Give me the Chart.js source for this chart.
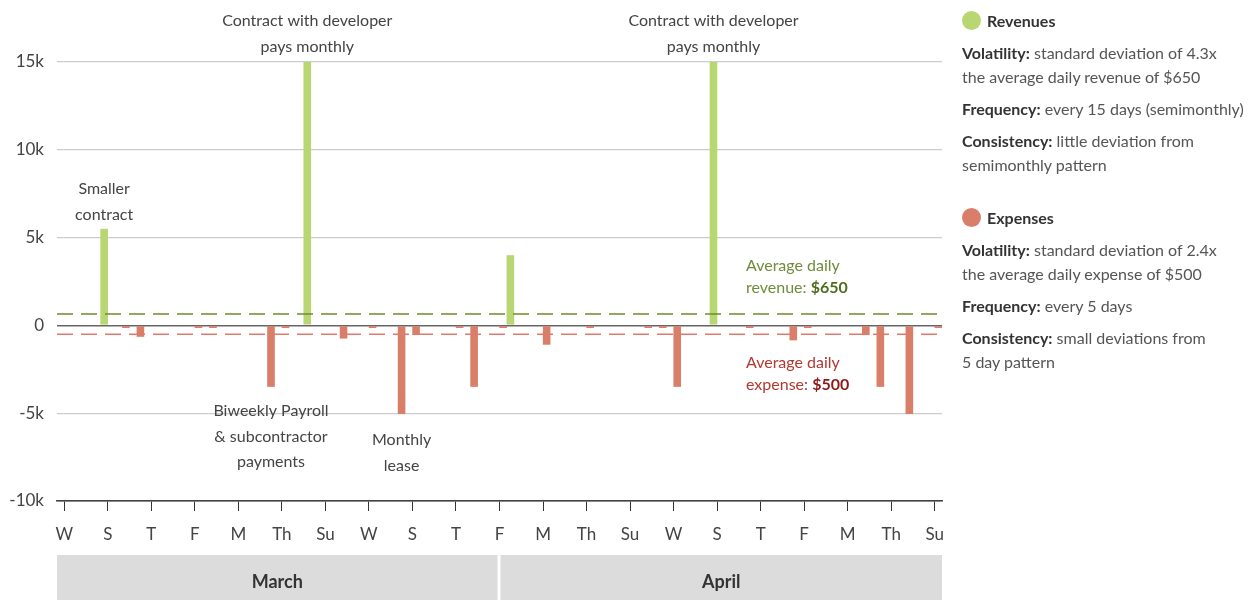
<!DOCTYPE html>
<html>
<head>
<meta charset="utf-8">
<script src="https://cdn.jsdelivr.net/npm/chart.js@4.4.0/dist/chart.umd.min.js"></script>
<style>
  body { margin: 0; background: #fff; }
  #wrap { position: relative; width: 1260px; height: 600px; }
  #myChart { position: absolute; left: 0; top: 0; }
  .side { position: absolute; left: 962px; top: 9px; width: 298px;
          font-family: 'Liberation Sans Narrow', Lato, sans-serif; font-size: 16px; color: #555; }
  .side h4 { margin: 0; height: 24px; line-height: 24px; font-size: 16px; color: #333; position: relative; padding-left: 25px; }
  .side h4 span { position: absolute; left: 0; top: 2px; width: 19px; height: 19px; border-radius: 50%; }
  .side p { margin: 8px 0 0 0; line-height: 24px; }
  .side b { color: #333; }
  .side .gap { height: 29px; }
</style>
</head>
<body>
<div id="wrap">
  <canvas id="myChart" width="1260" height="600"></canvas>
  <div class="side">
    <h4><span style="background:#b8d672"></span>Revenues</h4>
    <p><b>Volatility:</b> standard deviation of 4.3x<br>the average daily revenue of $650</p>
    <p><b>Frequency:</b> every 15 days (semimonthly)</p>
    <p><b>Consistency:</b> little deviation from<br>semimonthly pattern</p>
    <div class="gap"></div>
    <h4><span style="background:#d97e69"></span>Expenses</h4>
    <p><b>Volatility:</b> standard deviation of 2.4x<br>the average daily expense of $500</p>
    <p><b>Frequency:</b> every 5 days</p>
    <p><b>Consistency:</b> small deviations from<br>5 day pattern</p>
  </div>
</div>
<script>
// days run from Wed 1 March to Sun 30 April
var weekLetters = ["W", "Th", "F", "S", "Su", "M", "T"];
var months = ["March", "April"];
var monthDays = [31, 30];

// daily revenue (positive) and expense (negative), one slot per day
var revenues = [
  null, null, null, 5500, null, null, null, null, null, null,
  null, null, null, null, null, null, null, 15000, null, null,
  null, null, null, null, null, null, null, null, null, null,
  null, 4000, null, null, null, null, null, null, null, null,
  null, null, null, null, null, 15000, null, null, null, null,
  null, null, null, null, null, null, null, null, null, null,
  null
];
var expenses = [
  null, null, null, null, -150, -650, null, null, null, -150,
  -150, null, null, null, -3500, -150, null, null, null, -750,
  null, -150, null, -5050, -550, null, null, -150, -3500, null,
  -150, null, null, -1100, null, null, -150, null, null, null,
  -150, -150, -3500, null, null, null, null, -150, null, null,
  -850, -150, null, null, null, -550, -3500, null, -5050, null,
  -150
];
var avgRevenue = 650;
var avgExpense = -500;

var days = [];
for (var i = 0; i < revenues.length; i++) days.push(weekLetters[i % 7]);

var FONT = "'Liberation Sans Narrow', Lato, sans-serif";
Chart.defaults.font.family = FONT;
Chart.defaults.color = "#444";

// dashed average lines, notes and month bands
var extras = {
  id: "extras",
  afterDatasetsDraw: function (chart) {
    var ctx = chart.ctx, a = chart.chartArea, y = chart.scales.y;
    ctx.save();
    ctx.lineWidth = 1.6;
    ctx.setLineDash([16, 8]);
    ctx.strokeStyle = "#6f8c2f";
    var yr = y.getPixelForValue(avgRevenue);
    ctx.beginPath(); ctx.moveTo(a.left, yr); ctx.lineTo(a.right, yr); ctx.stroke();
    ctx.strokeStyle = "#e07a6c";
    var ye = y.getPixelForValue(avgExpense);
    ctx.beginPath(); ctx.moveTo(a.left, ye); ctx.lineTo(a.right, ye); ctx.stroke();
    ctx.restore();
  },
  afterDraw: function (chart) {
    var ctx = chart.ctx, a = chart.chartArea, x = chart.scales.x, y = chart.scales.y;
    var rev = chart.getDatasetMeta(0).data, exp = chart.getDatasetMeta(1).data;
    ctx.save();
    ctx.textBaseline = "middle";
    ctx.textAlign = "center";
    ctx.font = "16px " + FONT;
    ctx.fillStyle = "#444";
    function note(lines, cx, top, lh) {
      lines.forEach(function (t, k) { ctx.fillText(t, cx, top + k * lh); });
    }
    note(["Contract with developer", "pays monthly"], rev[17].x, 21, 26);
    note(["Contract with developer", "pays monthly"], rev[45].x, 21, 26);
    note(["Smaller", "contract"], rev[3].x, 189, 26);
    note(["Biweekly Payroll", "& subcontractor", "payments"], exp[14].x, 411, 25.5);
    note(["Monthly", "lease"], exp[23].x, 440, 26);

    // average labels
    ctx.textAlign = "left";
    function avgLabel(l1, l2, val, cLight, cBold, top) {
      ctx.font = "16px " + FONT;
      ctx.fillStyle = cLight;
      ctx.fillText(l1, 746, top);
      ctx.fillText(l2, 746, top + 22);
      var w = ctx.measureText(l2).width;
      ctx.font = "bold 16px " + FONT;
      ctx.fillStyle = cBold;
      ctx.fillText(val, 746 + w, top + 22);
    }
    var yr = y.getPixelForValue(avgRevenue), ye = y.getPixelForValue(avgExpense);
    avgLabel("Average daily", "revenue: ", "$650", "#6f8c3a", "#4f6d1f", yr - 48);
    avgLabel("Average daily", "expense: ", "$500", "#b3382f", "#8a1a16", ye + 29);

    // month bands
    var split = x.getPixelForValue(monthDays[0] - 1);
    var bands = [[a.left, split - 2], [split + 1, a.right]];
    ctx.font = "bold 18px " + FONT;
    ctx.textAlign = "center";
    bands.forEach(function (b, k) {
      ctx.fillStyle = "#dcdcdc";
      ctx.fillRect(b[0], 555, b[1] - b[0], 45);
      ctx.fillStyle = "#333";
      ctx.fillText(months[k], (b[0] + b[1]) / 2, 582);
    });
    ctx.restore();
  }
};

var mychart = new Chart("myChart", {
  type: "bar",
  data: {
    labels: days,
    datasets: [
      { label: "Revenues", data: revenues, backgroundColor: "#b8d672" },
      { label: "Expenses", data: expenses, backgroundColor: "#d97e69" }
    ]
  },
  options: {
    responsive: false,
    animation: false,
    layout: { padding: { left: 0, top: 62, right: 318, bottom: 0 } },
    datasets: { bar: { categoryPercentage: 1.0, barPercentage: 1.05 } },
    plugins: { legend: { display: false }, tooltip: { enabled: false } },
    scales: {
      x: {
        afterFit: function (s) { s.height = 99; },
        border: { display: true, color: "#444", width: 1.5 },
        grid: {
          offset: false,
          drawOnChartArea: false,
          drawTicks: true,
          tickLength: 10,
          tickColor: function (c) { return c.index % 3 === 0 ? "#333" : "rgba(0,0,0,0)"; }
        },
        ticks: {
          autoSkip: false,
          maxRotation: 0,
          padding: 13,
          font: { size: 17 },
          color: "#444",
          callback: function (v, i) { return i % 3 === 0 ? days[i] : ""; }
        }
      },
      y: {
        min: -10000,
        max: 15000,
        afterFit: function (s) { s.width = 57; },
        border: { display: false },
        grid: {
          drawTicks: false,
          color: function (c) {
            if (c.tick.value === 0) return "#666";
            if (c.tick.value === -10000) return "#444";
            return "#cccccc";
          },
          lineWidth: function (c) { return c.tick.value === 0 ? 1.6 : 1.2; }
        },
        ticks: {
          stepSize: 5000,
          padding: 13,
          font: { size: 17 },
          color: "#444",
          callback: function (v) { return v === 0 ? "0" : (v / 1000) + "k"; }
        }
      }
    }
  },
  plugins: [extras]
});
</script>
</body>
</html>
